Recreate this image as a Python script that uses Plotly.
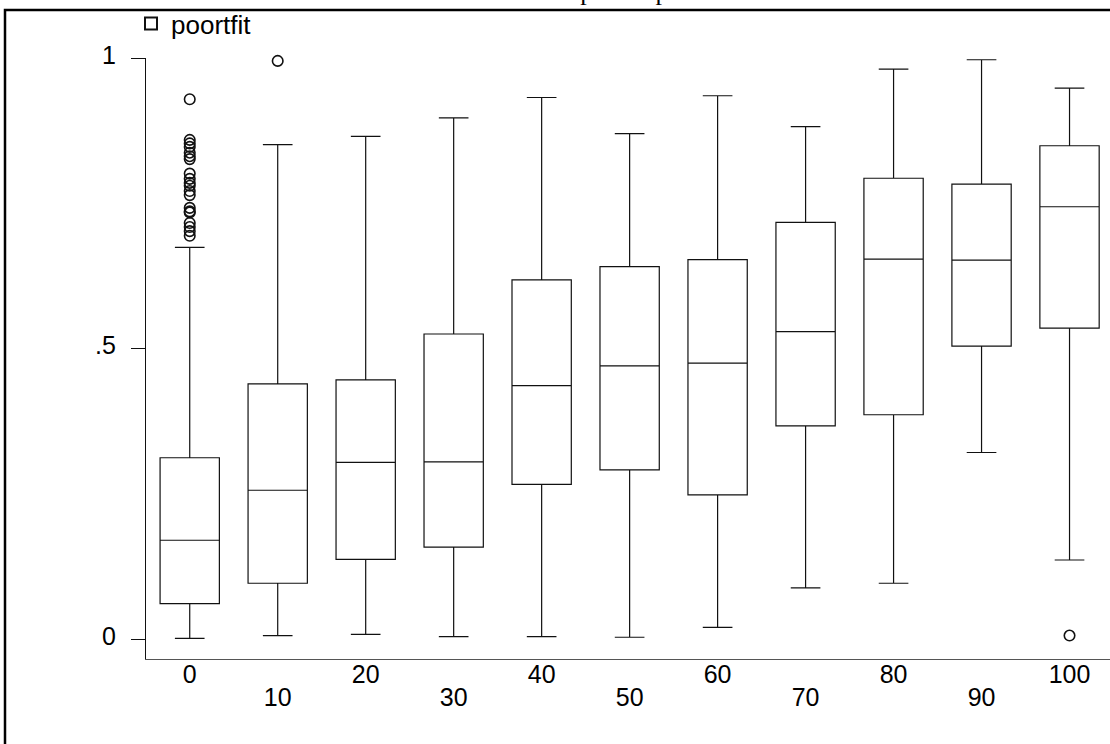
import plotly.graph_objects as go

# Percentile groups and the five-number summary of poortfit in each group
percentiles = [0, 10, 20, 30, 40, 50, 60, 70, 80, 90, 100]
lower_adj = [0.001, 0.006, 0.008, 0.004, 0.004, 0.003, 0.020, 0.088, 0.096, 0.321, 0.136]
q1 = [0.061, 0.096, 0.137, 0.158, 0.266, 0.291, 0.248, 0.367, 0.386, 0.504, 0.535]
median = [0.170, 0.256, 0.304, 0.305, 0.436, 0.470, 0.475, 0.529, 0.654, 0.652, 0.744]
q3 = [0.312, 0.439, 0.446, 0.525, 0.618, 0.641, 0.653, 0.717, 0.793, 0.783, 0.849]
upper_adj = [0.674, 0.851, 0.865, 0.897, 0.932, 0.870, 0.935, 0.882, 0.981, 0.997, 0.948]

# Outside values
outliers_0 = [0.929, 0.859, 0.853, 0.847, 0.837, 0.831, 0.826, 0.801, 0.792, 0.785,
              0.780, 0.771, 0.764, 0.742, 0.736, 0.734, 0.716, 0.709, 0.702, 0.694]
outliers_10 = [0.995]
outliers_100 = [0.006]

y_ticks = [0, 0.5, 1]
y_ticktext = ["0", ".5", "1"]
x_ticks_even = [0, 20, 40, 60, 80, 100]
x_ticks_odd = [10, 30, 50, 70, 90]

W, H = 1110, 744
ML, MR, MT, MB = 146, 0, 57, 85
plot_w = W - ML - MR
plot_h = H - MT - MB

INK = "#111111"
FONT = "Liberation Sans, Arial, sans-serif"


def px_x(p):
    return (p - ML) / plot_w


def px_y(p):
    return (H - MB - p) / plot_h


fig = go.Figure()

fig.add_trace(go.Box(
    name="poortfit",
    x=percentiles,
    q1=q1,
    median=median,
    q3=q3,
    lowerfence=lower_adj,
    upperfence=upper_adj,
    boxpoints=False,
    width=6.74,
    whiskerwidth=0.5,
    fillcolor="rgba(0,0,0,0)",
    line=dict(color=INK, width=1.2),
    showlegend=True,
))

out_x = [0] * len(outliers_0) + [10] * len(outliers_10) + [100] * len(outliers_100)
out_y = outliers_0 + outliers_10 + outliers_100
fig.add_trace(go.Scatter(
    x=out_x,
    y=out_y,
    mode="markers",
    marker=dict(symbol="circle-open", size=10.5, color=INK, line=dict(width=1.6, color=INK)),
    showlegend=False,
    cliponaxis=False,
    hoverinfo="y",
))

x_range = [-4.97, 104.6]

fig.update_layout(
    width=W,
    height=H,
    margin=dict(l=ML, r=MR, t=MT, b=MB, pad=0),
    paper_bgcolor="white",
    plot_bgcolor="white",
    font=dict(family=FONT, size=25, color="black"),
    xaxis=dict(
        range=x_range,
        tickvals=x_ticks_even,
        ticktext=[str(v) for v in x_ticks_even],
        ticks="",
        showgrid=False,
        zeroline=False,
        showline=True,
        linecolor="#555555",
        linewidth=1.3,
        ticklabelstandoff=-7,
        tickfont=dict(family=FONT, size=25, color="black"),
    ),
    xaxis2=dict(
        range=x_range,
        matches="x",
        overlaying="x",
        anchor="y",
        side="bottom",
        tickvals=x_ticks_odd,
        ticktext=[str(v) for v in x_ticks_odd],
        ticks="",
        showgrid=False,
        zeroline=False,
        showline=False,
        ticklabelstandoff=21,
        tickfont=dict(family=FONT, size=25, color="black"),
    ),
    yaxis=dict(
        range=[-0.0344, 1.0],
        tickvals=y_ticks,
        ticktext=y_ticktext,
        ticks="outside",
        ticklen=14,
        tickwidth=1.2,
        tickcolor=INK,
        showgrid=False,
        zeroline=False,
        showline=True,
        linecolor=INK,
        linewidth=1.2,
        ticklabelstandoff=10,
        ticklabelshift=-3,
        tickfont=dict(family=FONT, size=25, color="black"),
    ),
    legend=dict(
        x=px_x(131),
        y=px_y(22),
        xanchor="left",
        yanchor="middle",
        bgcolor="rgba(0,0,0,0)",
        borderwidth=0,
        font=dict(family=FONT, size=26, color="black"),
        itemsizing="constant",
    ),
)

# Empty trace on the secondary axis that carries the staggered labels
fig.add_trace(go.Scatter(x=[None], y=[None], xaxis="x2", showlegend=False, hoverinfo="skip"))

# Outer frame of the graph region
fig.add_shape(
    type="rect", xref="paper", yref="paper",
    x0=px_x(5), x1=px_x(1118), y0=px_y(752), y1=px_y(9),
    line=dict(color="black", width=2.5), fillcolor="rgba(0,0,0,0)", layer="below",
)

# Graph title, set above the frame
fig.add_annotation(
    text="Boxplot of poortfit",
    xref="paper", yref="paper",
    x=px_x(535), y=px_y(7),
    xanchor="left", yanchor="bottom",
    showarrow=False,
    font=dict(family="Liberation Serif, Times New Roman, serif", size=26, color="black"),
)

fig.write_html("out.html")
